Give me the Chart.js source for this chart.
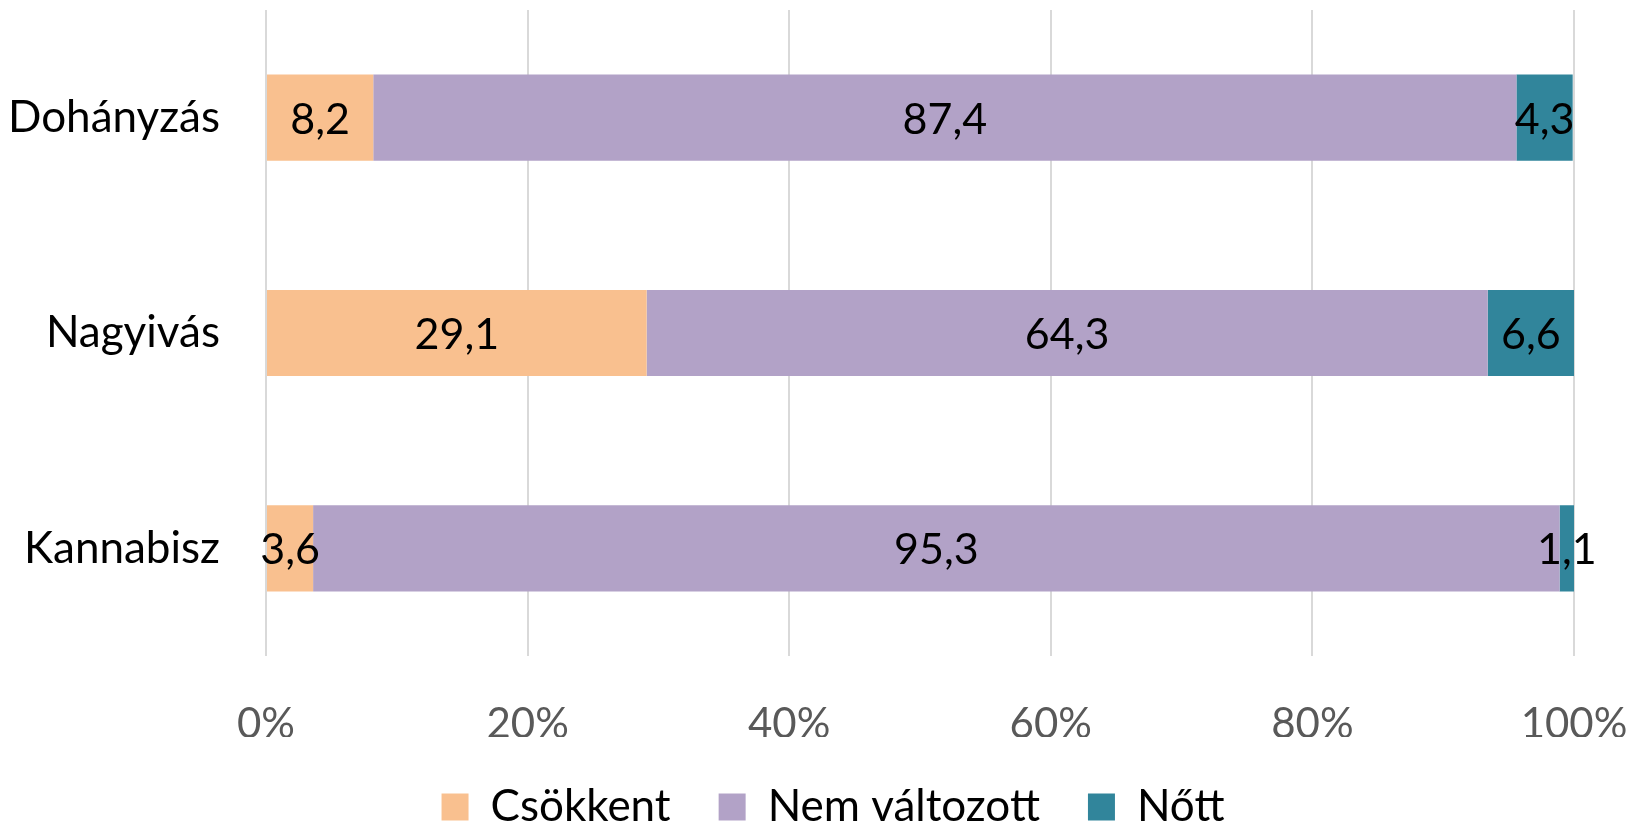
<!DOCTYPE html>
<html>
<head>
<meta charset="utf-8">
<script src="https://cdn.jsdelivr.net/npm/chart.js@4"></script>
<style>
  body { margin: 0; background: #fff; }
  #wrap { width: 1632px; height: 824px; }
</style>
</head>
<body>
<div id="wrap"><canvas id="change-chart" width="1632" height="824"></canvas></div>
<script>
const categories = ['Dohányzás', 'Nagyivás', 'Kannabisz'];
const seriesNames = ['Csökkent', 'Nem változott', 'Nőtt'];
const decreased = [8.2, 29.1, 3.6];
const unchanged = [87.4, 64.3, 95.3];
const increased = [4.3, 6.6, 1.1];
const xTicks = [0, 20, 40, 60, 80, 100];
const colors = ['#F9C08F', '#B2A2C7', '#31859B'];

const fontFamily = 'Lato, "Open Sans", sans-serif';
const clear = 'rgba(0,0,0,0)';

// draw the value in the middle of each segment
const segmentLabels = {
    id: 'segmentLabels',
    afterDatasetsDraw(chart) {
        const ctx = chart.ctx;
        ctx.save();
        ctx.font = '43px ' + fontFamily;
        ctx.fillStyle = '#000';
        ctx.textAlign = 'center';
        ctx.textBaseline = 'middle';
        chart.data.datasets.forEach((ds, i) => {
            const meta = chart.getDatasetMeta(i);
            meta.data.forEach((bar, j) => {
                const text = ds.data[j].toFixed(1).replace('.', ',');
                ctx.fillText(text, (bar.x + bar.base) / 2, bar.y + 2);
            });
        });
        ctx.restore();
    }
};

const ctx = document.getElementById('change-chart').getContext('2d');
new Chart(ctx, {
    type: 'bar',
    data: {
        labels: categories,
        datasets: [
            { label: seriesNames[0], data: decreased, backgroundColor: colors[0] },
            { label: seriesNames[1], data: unchanged, backgroundColor: colors[1] },
            { label: seriesNames[2], data: increased, backgroundColor: colors[2] },
        ],
    },
    options: {
        indexAxis: 'y',
        responsive: false,
        animation: false,
        // negative right padding only moves the centred legend to the right
        layout: { padding: { left: 0, right: -34, top: 10, bottom: -15 } },
        datasets: {
            bar: { barPercentage: 0.4, categoryPercentage: 1, borderWidth: 0 },
        },
        scales: {
            x: {
                stacked: true,
                min: 0,
                max: 100,
                afterBuildTicks: (scale) => {
                    scale.ticks = xTicks.map((v) => ({ value: v }));
                },
                afterFit: (scale) => {
                    scale.height = 81;
                    scale.paddingRight = 58;
                },
                grid: { color: '#D9D9D9', lineWidth: 2, drawTicks: true, tickLength: 43, tickColor: clear },
                border: { display: false },
                ticks: {
                    padding: 0,
                    color: '#595959',
                    font: { family: fontFamily, size: 42 },
                    callback: (v) => v + '%',
                },
            },
            y: {
                stacked: true,
                afterFit: (scale) => {
                    scale.width = 266;
                    scale.paddingTop = 0;
                    scale.paddingBottom = 0;
                },
                grid: { display: true, color: clear, drawTicks: true, tickLength: 46, tickColor: clear },
                border: { display: false },
                ticks: {
                    padding: 0,
                    color: '#000',
                    font: { family: fontFamily, size: 44 },
                },
            },
        },
        plugins: {
            legend: {
                position: 'bottom',
                labels: {
                    boxWidth: 27,
                    boxHeight: 27,
                    padding: 48,
                    color: '#000',
                    font: { family: fontFamily, size: 44 },
                },
            },
            tooltip: { enabled: false },
        },
    },
    plugins: [segmentLabels],
});
</script>
</body>
</html>
